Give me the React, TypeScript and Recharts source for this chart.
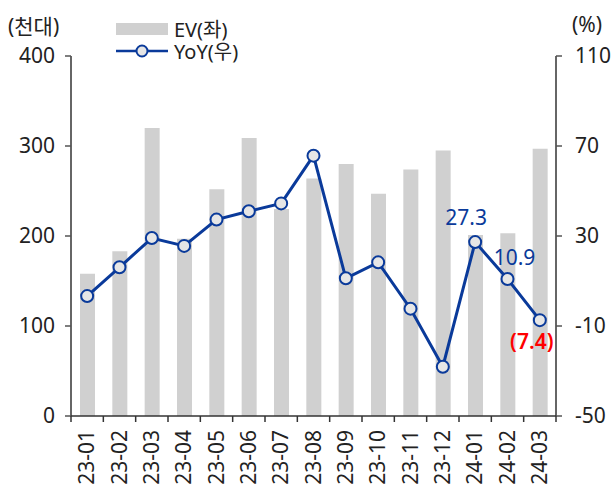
import { ComposedChart, Bar, Line, XAxis, YAxis, LabelList } from "recharts";

const months = ["23-01", "23-02", "23-03", "23-04", "23-05", "23-06", "23-07", "23-08", "23-09", "23-10", "23-11", "23-12", "24-01", "24-02", "24-03"];
const evValues = [158, 183, 320, 197, 252, 309, 230, 264, 280, 247, 274, 295, 201, 203, 297];
const yoyValues = [3.3, 16.1, 29.1, 25.6, 37.3, 41.0, 44.5, 65.7, 11.2, 18.3, -2.3, -28.1, 27.3, 10.9, -7.4];
const leftTicks = [0, 100, 200, 300, 400];
const rightTicks = [-50, -10, 30, 70, 110];
const labeledIdx = [12, 13, 14];

const data = months.map((m, i) => ({ month: m, ev: evValues[i], yoy: yoyValues[i] }));

const FONT = "'Noto Sans', 'Noto Sans CJK KR', sans-serif";
const BLUE = "#0a3a9a";
const GRAY = "#d0d0d0";
const TEXT = "#222";
const FS = 21;

function XTick(props: any) {
  const { x, y, payload, index, visibleTicksCount } = props;
  const half = payload.offset || 16.2;
  const top = y - 8;
  return (
    <g>
      <line x1={x - half} x2={x - half} y1={top} y2={top + 6} stroke="#333" strokeWidth={1.5} />
      {index === visibleTicksCount - 1 && (
        <line x1={x + half} x2={x + half} y1={top} y2={top + 6} stroke="#333" strokeWidth={1.5} />
      )}
      <text
        x={0}
        y={0}
        transform={`translate(${x + 7},${top + 14}) rotate(-90)`}
        textAnchor="end"
        fontSize={FS}
        fill={TEXT}
        fontFamily={FONT}
      >
        {payload.value}
      </text>
    </g>
  );
}

function YoyLabel(props: any) {
  const { x, y, value, index } = props;
  if (!labeledIdx.includes(index)) return null;
  const neg = value < 0;
  const txt = neg ? `(${Math.abs(value).toFixed(1)})` : value.toFixed(1);
  let dx = -9;
  let dy = -17;
  if (index === 13) {
    dx = 7;
    dy = -14;
  }
  if (index === 14) {
    dx = -8;
    dy = 29;
  }
  return (
    <text
      x={x + dx}
      y={y + dy}
      textAnchor="middle"
      fontSize={FS}
      fontWeight={neg ? 600 : 400}
      fill={neg ? "#ff0000" : BLUE}
      fontFamily={FONT}
    >
      {txt}
    </text>
  );
}

function LegendBox() {
  // legend drawn outside the chart so the plot keeps its height
  return (
    <svg width={180} height={70} style={{ position: "absolute", left: 116, top: 10 }} overflow="visible">
      <rect x={0} y={13} width={52} height={12} fill={GRAY} />
      <text x={58} y={27} fontSize={20} fill={TEXT} fontFamily={FONT}>EV(좌)</text>
      <line x1={0} x2={52} y1={41} y2={41} stroke={BLUE} strokeWidth={2.5} />
      <circle cx={26} cy={41} r={5.5} fill="#e6e6e6" stroke={BLUE} strokeWidth={2} />
      <text x={58} y={49} fontSize={20} fill={TEXT} fontFamily={FONT}>YoY(우)</text>
    </svg>
  );
}

export default function App() {
  return (
    <div style={{ position: "absolute", left: 0, top: 0, width: 614, height: 488, background: "#fff", fontFamily: FONT }}>
      <ComposedChart width={614} height={488} data={data} margin={{ top: 56, right: 0, left: 0, bottom: 0 }}>
        <XAxis
          dataKey="month"
          height={72}
          tick={<XTick />}
          tickLine={false}
          interval={0}
          axisLine={{ stroke: "#333", strokeWidth: 1.5 }}
        />
        <YAxis
          yAxisId="left"
          width={71}
          domain={[0, 400]}
          ticks={leftTicks}
          interval={0}
          tickSize={6}
          tickMargin={10}
          tick={{ fontSize: FS, fill: TEXT, fontFamily: FONT }}
          axisLine={{ stroke: "#333", strokeWidth: 1.5 }}
          tickLine={{ stroke: "#555", strokeWidth: 1.5 }}
        />
        <YAxis
          yAxisId="right"
          orientation="right"
          width={58}
          domain={[-50, 110]}
          ticks={rightTicks}
          interval={0}
          tickSize={6}
          tickMargin={13}
          tick={{ fontSize: FS, fill: TEXT, fontFamily: FONT }}
          axisLine={{ stroke: "#333", strokeWidth: 1.5 }}
          tickLine={{ stroke: "#555", strokeWidth: 1.5 }}
        />
        <Bar yAxisId="left" dataKey="ev" fill={GRAY} barSize={15} isAnimationActive={false} />
        <Line
          yAxisId="right"
          dataKey="yoy"
          stroke={BLUE}
          strokeWidth={3}
          dot={{ r: 6, fill: "#e6e6e6", stroke: BLUE, strokeWidth: 2 }}
          activeDot={false}
          isAnimationActive={false}
        >
          <LabelList dataKey="yoy" content={<YoyLabel />} />
        </Line>
      </ComposedChart>
      <div style={{ position: "absolute", left: 8, top: 10, fontSize: FS, color: TEXT }}>(천대)</div>
      <div style={{ position: "absolute", left: 572, top: 10, fontSize: FS, color: TEXT }}>(%)</div>
      <LegendBox />
    </div>
  );
}
